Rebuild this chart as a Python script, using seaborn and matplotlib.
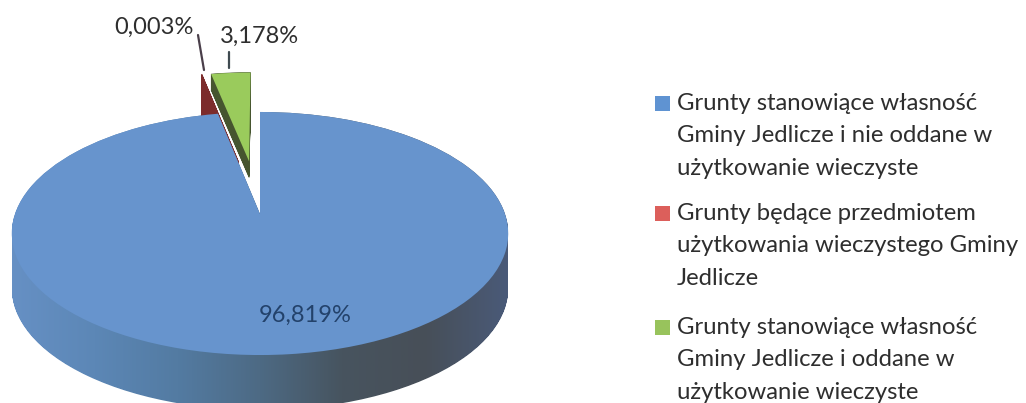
import numpy as np
import matplotlib
matplotlib.use('Agg')
import matplotlib.pyplot as plt
from matplotlib.colors import LinearSegmentedColormap
from matplotlib.patches import PathPatch, Rectangle
from matplotlib.path import Path
from matplotlib.transforms import Transform
import seaborn as sns

# Values
categories = [
    'Grunty stanowiące własność\nGminy Jedlicze i nie oddane w\nużytkowanie wieczyste',
    'Grunty będące przedmiotem\nużytkowania wieczystego Gminy\nJedlicze',
    'Grunty stanowiące własność\nGminy Jedlicze i oddane w\nużytkowanie wieczyste',
]
shares = [96.819, 0.003, 3.178]
explode = [0.0, 0.48, 0.48]

face_colors = ['#6794cd', '#8a3532', '#9acb5c']
legend_colors = ['#5f93d2', '#dc5f5b', '#98c35c']

sns.set_theme(style='white')
plt.rcParams['font.family'] = ['Lato', 'DejaVu Sans']


# Tilted pie: the unit circle goes to pixel coordinates through a perspective map
class Tilt(Transform):
    input_dims = 2
    output_dims = 2
    is_separable = False
    has_inverse = False

    def transform_non_affine(self, xy):
        xy = np.asarray(xy, dtype=float)
        w = 1 + 0.1605 * xy[:, 1]
        return np.column_stack([260 + 245 * xy[:, 0] / w, 214 - 118.4 * xy[:, 1] / w])


def swept(wedge, tilt, depth):
    # the wedge outline repeated downwards, gives the wall of the slice
    p = tilt.transform_path(wedge.get_path())
    copies = [Path(p.vertices + [0, d], p.codes) for d in range(depth + 1)]
    return Path.make_compound_path(*copies)


fig = plt.figure(figsize=(10.26, 4.03), dpi=100)
ax = fig.add_axes([0, 0, 1, 1])

wedges, _ = ax.pie(shares, explode=explode, colors=sns.color_palette(face_colors),
                   startangle=90, counterclock=False, wedgeprops={'linewidth': 0})
ax.set_aspect('auto')

tilt = Tilt()
for w in wedges:
    w.set_transform(tilt + ax.transData)
wedges[0].set_zorder(6)
wedges[1].set_zorder(4)
wedges[2].set_zorder(5)

# Side of the big slice, shaded from left to right
side_cmap = LinearSegmentedColormap.from_list(
    'side', ['#6690c4', '#5c87b6', '#537ba2', '#4d6a84', '#47545f', '#474f58', '#4a5a78'])
img = ax.imshow(np.linspace(0, 1, 256).reshape(1, -1), cmap=side_cmap, aspect='auto',
                extent=(12, 508, 403, 0), zorder=1)
img.set_clip_path(swept(wedges[0], tilt, 55), transform=ax.transData)

# Walls of the two pulled out slices
ax.add_patch(PathPatch(swept(wedges[1], tilt, 45), facecolor='#7c2c2c', edgecolor='#7c2c2c',
                       linewidth=1, zorder=2))
ax.add_patch(PathPatch(swept(wedges[2], tilt, 16), facecolor='#46552f', edgecolor='#46552f',
                       linewidth=0.5, zorder=3))

# Leader lines
ax.plot([198, 204], [35, 70], color='#4a3f4a', lw=1.6, zorder=7)
ax.plot([229, 229], [52, 68], color='#3f4a50', lw=1.6, zorder=7)

# Data labels
pct = [f'{v:.3f}%'.replace('.', ',') for v in shares]
ax.text(305, 315, pct[0], color='#23426b', fontsize=17, ha='center', va='center', zorder=8)
ax.text(154, 27, pct[1], color='#2e2e2e', fontsize=17, ha='center', va='center', zorder=8)
ax.text(259, 36, pct[2], color='#2e2e2e', fontsize=17, ha='center', va='center', zorder=8)

ax.set_xlim(0, 1026)
ax.set_ylim(403, 0)
ax.set_axis_off()

# Legend, marker next to the first line of each entry
for label, color, y in zip(categories, legend_colors, [103, 213, 327]):
    ax.add_patch(Rectangle((655, y - 7), 15, 15, facecolor=color, edgecolor='none'))
    ax.text(677, y - 10, label, color='#2e2e2e', fontsize=17.2, ha='left', va='top',
            linespacing=1.67)

fig.savefig('out.png', dpi=100)
